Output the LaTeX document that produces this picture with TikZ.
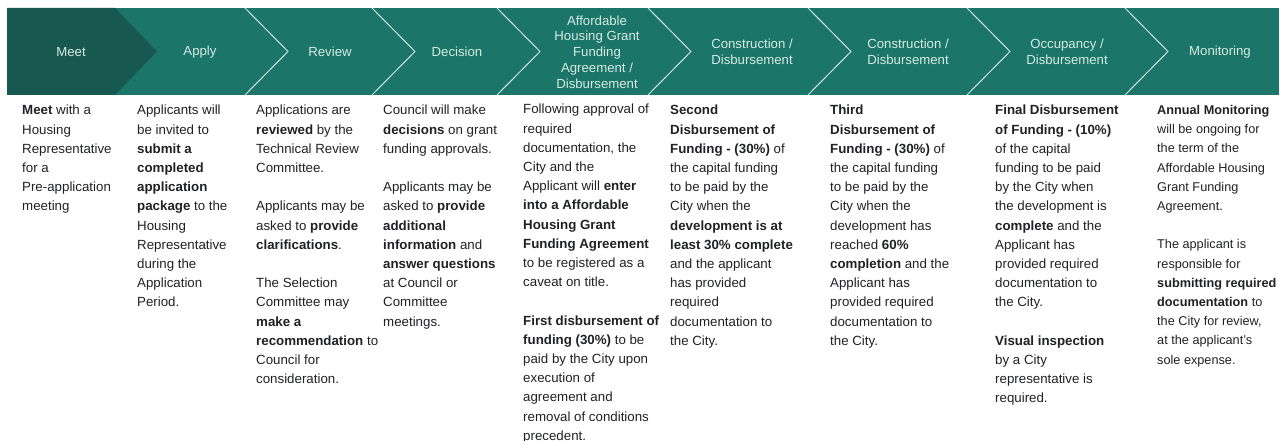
\documentclass[tikz,border=0pt]{standalone}
\usepackage{fontspec}
\setmainfont{Liberation Sans}
\definecolor{bandteal}{RGB}{27,117,104}
\definecolor{banddark}{RGB}{23,89,80}
\definecolor{stagetext}{RGB}{214,234,229}
\definecolor{bodytext}{RGB}{32,33,36}
\begin{document}
\begin{tikzpicture}[x=1pt,y=-1pt,
    stage/.style = {text=stagetext, font={\fontsize{13.2}{15.8}\selectfont}, align=center, inner sep=0},
    info/.style = {anchor=north west, text=bodytext, font={\fontsize{13.3}{19.2}\selectfont}, align=left, inner sep=0},
    divider/.style = {draw=white!80!bandteal, line width=1pt}]
  \useasboundingbox (0,0) rectangle (1280,441);

  \fill[bandteal] (7,8) rectangle (1279,95);
  \fill[banddark] (7,8) -- (115,8) -- (157,51.5) -- (115,95) -- (7,95) -- cycle;
  \foreach \t in {245,372,497,648,808,967,1125}
    \draw[divider] (\t,8) -- ++(43,43.5) -- ++(-43,43.5);

  \node[stage] (meet) at (71,52) {Meet};
  \node[stage] (apply) at (200,52) {Apply};
  \node[stage] (review) at (330,52) {Review};
  \node[stage] (decision) at (457,52) {Decision};
  \node[stage] (agreement) at (597,52) {Affordable\\Housing Grant\\Funding\\Agreement /\\Disbursement};
  \node[stage] (build1) at (752,52) {Construction /\\Disbursement};
  \node[stage] (build2) at (908,52) {Construction /\\Disbursement};
  \node[stage] (occupancy) at (1067,52) {Occupancy /\\Disbursement};
  \node[stage] (monitoring) at (1220,52) {Monitoring};

  \node[info] (meettext) at (22,105) {\textbf{Meet} with a\\Housing\\Representative\\for a\\Pre-application\\meeting};
  \node[info] (applytext) at (137,105) {Applicants will\\be invited to\\\textbf{submit a}\\\textbf{completed}\\\textbf{application}\\\textbf{package} to the\\Housing\\Representative\\during the\\Application\\Period.};
  \node[info] (reviewtext) at (256,105) {Applications are\\\textbf{reviewed} by the\\Technical Review\\Committee.\\[19.2pt]Applicants may be\\asked to \textbf{provide}\\\textbf{clarifications}.\\[19.2pt]The Selection\\Committee may\\\textbf{make a}\\\textbf{recommendation} to\\Council for\\consideration.};
  \node[info] (decisiontext) at (383,105) {Council will make\\\textbf{decisions} on grant\\funding approvals.\\[19.2pt]Applicants may be\\asked to \textbf{provide}\\\textbf{additional}\\\textbf{information} and\\\textbf{answer questions}\\at Council or\\Committee\\meetings.};
  \node[info] (agreementtext) at (523,104) {Following approval of\\required\\documentation, the\\City and the\\Applicant will \textbf{enter}\\\textbf{into a Affordable}\\\textbf{Housing Grant}\\\textbf{Funding Agreement}\\to be registered as a\\caveat on title.\\[19.2pt]\textbf{First disbursement of}\\\textbf{funding (30\%)} to be\\paid by the City upon\\execution of\\agreement and\\removal of conditions\\precedent.};
  \node[info] (build1text) at (670,105) {\textbf{Second}\\\textbf{Disbursement of}\\\textbf{Funding - (30\%)} of\\the capital funding\\to be paid by the\\City when the\\\textbf{development is at}\\\textbf{least 30\% complete}\\and the applicant\\has provided\\required\\documentation to\\the City.};
  \node[info] (build2text) at (830,105) {\textbf{Third}\\\textbf{Disbursement of}\\\textbf{Funding - (30\%)} of\\the capital funding\\to be paid by the\\City when the\\development has\\reached \textbf{60\%}\\\textbf{completion} and the\\Applicant has\\provided required\\documentation to\\the City.};
  \node[info] (occupancytext) at (995,105) {\textbf{Final Disbursement}\\\textbf{of Funding - (10\%)}\\of the capital\\funding to be paid\\by the City when\\the development is\\\textbf{complete} and the\\Applicant has\\provided required\\documentation to\\the City.\\[19.2pt]\textbf{Visual inspection}\\by a City\\representative is\\required.};
  \node[info, font={\fontsize{12.7}{19.2}\selectfont}] (monitoringtext) at (1157,105) {\textbf{Annual Monitoring}\\will be ongoing for\\the term of the\\Affordable Housing\\Grant Funding\\Agreement.\\[19.2pt]The applicant is\\responsible for\\\textbf{submitting required}\\\textbf{documentation} to\\the City for review,\\at the applicant's\\sole expense.};

\end{tikzpicture}
\end{document}
